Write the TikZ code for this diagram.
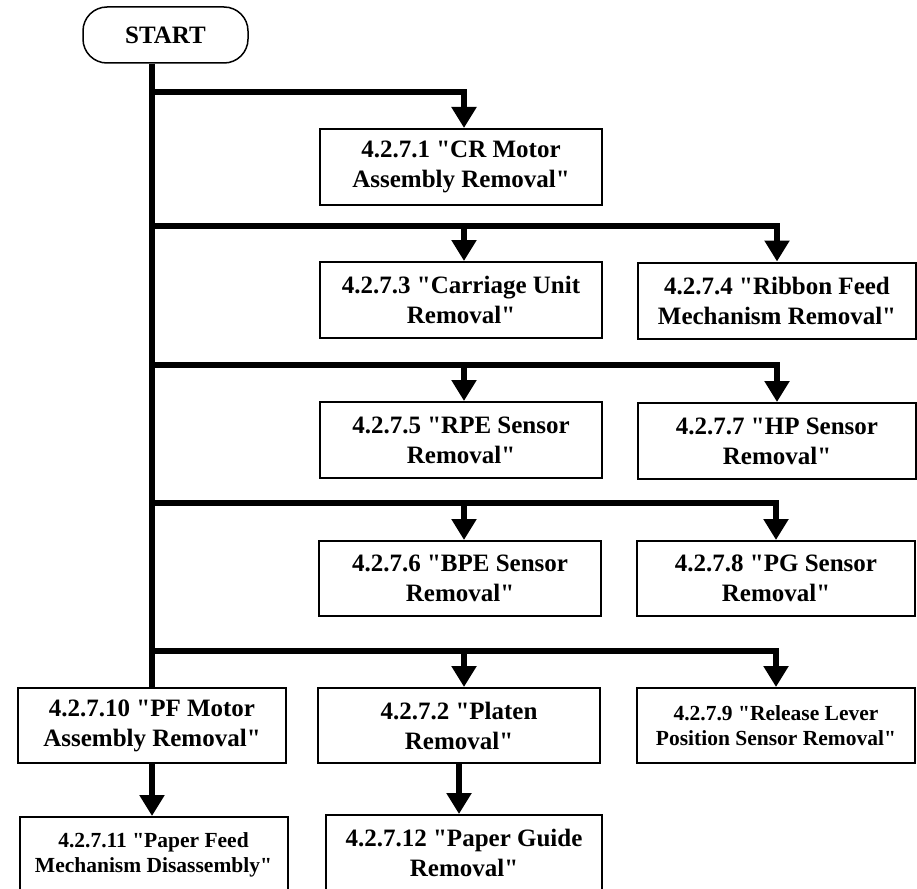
\documentclass[tikz,border=0pt]{standalone}
\usepackage{fontspec}
\setmainfont{Liberation Serif}[Ligatures=TeXOff]
\usetikzlibrary{arrows.meta}

\tikzset{
  stepbox/.style={draw, line width=2pt, align=center, inner sep=0pt,
    minimum width=282pt, minimum height=76pt,
    font=\bfseries\fontsize{25}{30}\selectfont},
  smallbox/.style={stepbox, font=\bfseries\fontsize{21.5}{25}\selectfont},
  trunk/.style={line width=6pt},
  flow/.style={line width=6pt, -{Triangle[width=24pt,length=21pt]}}
}

\begin{document}
\begin{tikzpicture}[x=1pt,y=-1pt]

\clip (0,0) rectangle (917,888);

\node[draw,rounded corners=24pt,line width=1.5pt,
  minimum width=165pt,minimum height=56pt,inner sep=0pt,
  font=\bfseries\fontsize{25}{30}\selectfont]
(start)
at (165.5,35)
{START};

\node[stepbox]
(b1)
at (461,167)
{4.2.7.1 "CR Motor\\Assembly Removal"};

\node[stepbox]
(b3)
at (461,300)
{4.2.7.3 "Carriage Unit\\Removal"};

\node[stepbox,minimum width=278pt]
(b4)
at (777,300.5)
{4.2.7.4 "Ribbon Feed\\Mechanism Removal"};

\node[stepbox]
(b5)
at (461,440)
{4.2.7.5 "RPE Sensor\\Removal"};

\node[stepbox,minimum width=278pt]
(b7)
at (777,441)
{4.2.7.7 "HP Sensor\\Removal"};

\node[stepbox,minimum height=75pt]
(b6)
at (460,578.5)
{4.2.7.6 "BPE Sensor\\Removal"};

\node[stepbox,minimum width=278pt,minimum height=75pt]
(b8)
at (776,578.5)
{4.2.7.8 "PG Sensor\\Removal"};

\node[stepbox,minimum width=268pt,minimum height=75pt]
(b10)
at (152,725.5)
{4.2.7.10 "PF Motor\\Assembly Removal"};

\node[stepbox,minimum height=75pt]
(b2)
at (459,725.5)
{4.2.7.2 "Platen\\Removal"};

\node[smallbox,minimum width=278pt,minimum height=75pt]
(b9)
at (776,725.5)
{4.2.7.9 "Release Lever\\Position Sensor Removal"};

\node[smallbox,minimum width=268pt]
(b11)
at (153.5,855)
{4.2.7.11 "Paper Feed\\Mechanism Disassembly"};

\node[stepbox,minimum width=276pt]
(b12)
at (464,853)
{4.2.7.12 "Paper Guide\\Removal"};

% joints on the trunk
\coordinate (j1) at (152,92);
\coordinate (j2) at (152,226);
\coordinate (j3) at (152,365);
\coordinate (j4) at (152,503);
\coordinate (j5) at (152,651);

\draw[trunk] (start.south -| b10.north) -- (b10.north);

\draw[flow] (j1) -| ([xshift=3pt]b1.north);

\draw[flow] (j2) -| ([xshift=3pt]b3.north);
\draw[flow] (j2) -| (b4.north);

\draw[flow] (j3) -| ([xshift=3pt]b5.north);
\draw[flow] (j3) -| (b7.north);

\draw[flow] (j4) -| ([xshift=4pt]b6.north);
\draw[flow] (j4) -| (b8.north);

\draw[flow] (j5) -| ([xshift=5pt]b2.north);
\draw[flow] (j5) -| (b9.north);

\draw[flow] (b10.south) -- (b10.south |- b11.north);
\draw[flow] (b2.south) -- (b2.south |- b12.north);

\end{tikzpicture}
\end{document}
